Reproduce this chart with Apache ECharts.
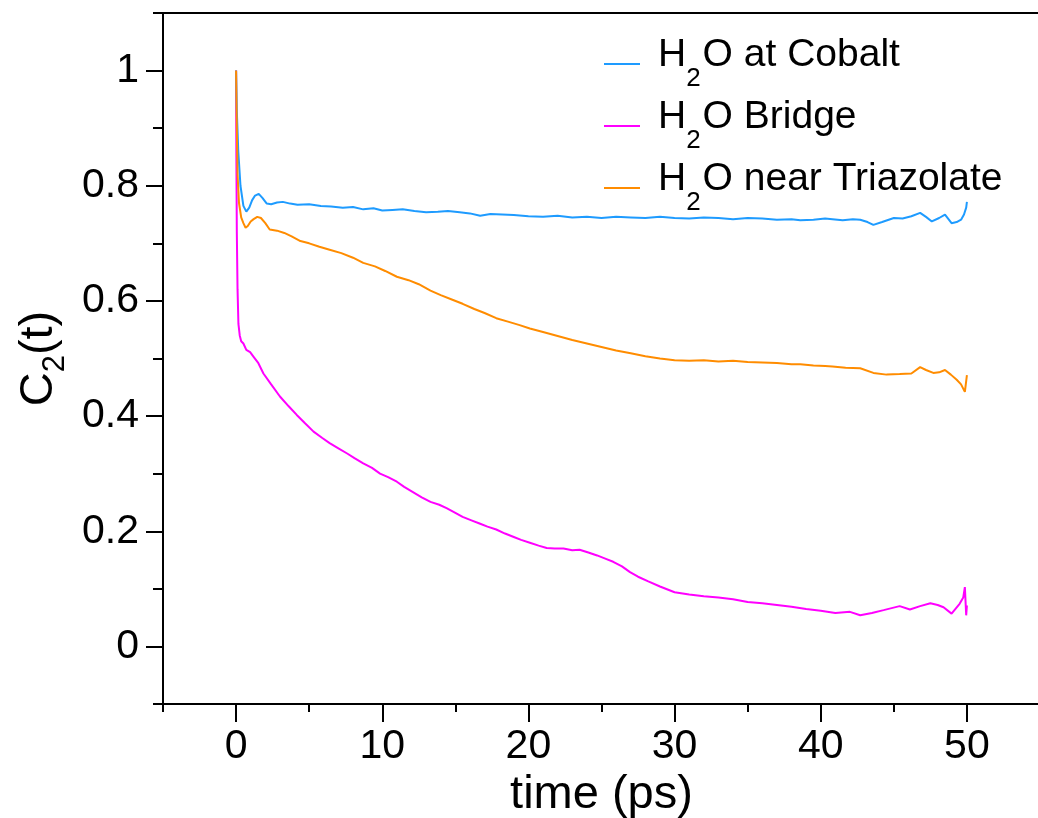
<!DOCTYPE html>
<html>
<head>
<meta charset="utf-8">
<script src="https://cdn.jsdelivr.net/npm/echarts@6/dist/echarts.min.js"></script>
<style>
html,body{margin:0;padding:0;background:#fff;}
#chart{width:1038px;height:818px;}
</style>
</head>
<body>
<div id="chart"></div>
<script>
// ---- data ----
const seriesNames = ['H2O at Cobalt', 'H2O Bridge', 'H2O near Triazolate'];
const xMajorTicks = [0, 10, 20, 30, 40, 50];
const yMajorTicks = [0, 0.2, 0.4, 0.6, 0.8, 1];

const cobaltT = [0,0.05,0.15,0.3,0.5,0.7,0.9,1.1,1.3,1.55,1.8,2.1,2.4,2.8,3.2,3.7,4.2,5,5.8,6.5,7.3,8,8.7,9.4,10,10.7,11.4,12.2,13,13.8,14.5,15.3,16,16.7,17.4,18.2,19,20,21,22,23,24,25,26,27,28,29,30,31,32,33,34,35,36,37,38,38.6,39.5,40.3,40.8,41.5,42.2,42.7,43.2,43.6,44.2,45,45.6,46.2,46.8,47.2,47.6,48.1,48.5,48.95,49.3,49.6,49.8,49.95,50];
const cobaltV = [1.0,0.93,0.86,0.80,0.765,0.755,0.762,0.775,0.783,0.786,0.779,0.769,0.768,0.771,0.772,0.769,0.767,0.768,0.765,0.764,0.762,0.763,0.759,0.761,0.757,0.758,0.759,0.756,0.754,0.755,0.756,0.754,0.752,0.748,0.751,0.750,0.749,0.747,0.746,0.748,0.745,0.746,0.744,0.746,0.745,0.744,0.746,0.744,0.743,0.745,0.744,0.742,0.744,0.743,0.741,0.742,0.740,0.741,0.743,0.742,0.740,0.742,0.741,0.737,0.732,0.737,0.744,0.743,0.747,0.753,0.746,0.738,0.744,0.750,0.735,0.737,0.741,0.750,0.762,0.772];

const bridgeT = [0,0.02,0.05,0.1,0.16,0.25,0.35,0.5,0.7,0.96,1.2,1.5,1.87,2.4,3.0,3.6,4.15,4.7,5.3,5.9,6.4,7.0,7.6,8.1,8.7,9.3,9.85,10.4,11.0,11.5,12.1,12.7,13.3,13.9,14.4,15.0,15.5,16.1,16.7,17.2,17.8,18.4,19.0,19.5,20.1,20.7,21.25,21.8,22.4,23.0,23.5,24.1,24.7,25.3,25.8,26.4,26.95,27.5,28.2,29.0,30,31,32,33,34,35,36,37,38,39,40,41,42,42.7,43.5,44.3,45.4,46.1,46.8,47.5,48.0,48.4,48.95,49.5,49.75,49.86,49.95,50];
const bridgeV = [1.0,0.85,0.72,0.62,0.56,0.54,0.53,0.526,0.515,0.511,0.503,0.493,0.474,0.455,0.434,0.417,0.402,0.388,0.373,0.362,0.353,0.344,0.335,0.327,0.318,0.310,0.300,0.294,0.286,0.277,0.268,0.259,0.251,0.246,0.240,0.232,0.225,0.219,0.213,0.208,0.203,0.196,0.190,0.185,0.180,0.175,0.171,0.170,0.170,0.167,0.168,0.163,0.158,0.152,0.147,0.139,0.129,0.121,0.113,0.104,0.094,0.090,0.087,0.085,0.082,0.077,0.075,0.072,0.069,0.065,0.062,0.058,0.060,0.054,0.058,0.063,0.070,0.064,0.070,0.075,0.072,0.068,0.057,0.074,0.085,0.103,0.054,0.071];

const triazT = [0,0.05,0.1,0.2,0.35,0.5,0.65,0.8,1.0,1.2,1.45,1.7,2.0,2.3,2.8,3.3,3.8,4.4,5.0,5.7,6.4,7.2,8.0,8.7,9.5,10.2,11.0,11.8,12.5,13.3,14.0,14.8,15.5,16.3,17.0,17.8,18.6,19.4,20.1,21,22,23,24,25,26,27,28,29,30,31,32,33,34,35,36,37,38,38.6,39.5,40.3,40.8,41.7,42.7,43.6,44.5,45.4,46.2,46.8,47.2,47.7,48.1,48.5,48.9,49.3,49.6,49.86,50];
const triazV = [1.0,0.90,0.82,0.77,0.745,0.735,0.727,0.73,0.738,0.742,0.746,0.744,0.735,0.724,0.722,0.718,0.712,0.704,0.700,0.694,0.689,0.683,0.675,0.666,0.660,0.652,0.642,0.636,0.629,0.618,0.610,0.602,0.595,0.586,0.579,0.570,0.564,0.558,0.552,0.546,0.539,0.532,0.526,0.520,0.514,0.509,0.504,0.500,0.497,0.496,0.497,0.495,0.496,0.494,0.493,0.492,0.490,0.490,0.488,0.487,0.486,0.484,0.483,0.475,0.472,0.473,0.474,0.485,0.480,0.475,0.476,0.480,0.472,0.463,0.455,0.442,0.471];

// ---- build ----
function pairs(t, v) { const n = Math.min(t.length, v.length); const out = []; for (let i = 0; i < n; i++) out.push([t[i], v[i]]); return out; }
const FONT = '"Liberation Sans", Arial, Helvetica, sans-serif';
const colors = ['#1e9bff', '#ff00ff', '#ff8c00'];
const dataSets = [pairs(cobaltT, cobaltV), pairs(bridgeT, bridgeV), pairs(triazT, triazV)];

const chart = echarts.init(document.getElementById('chart'), null, {renderer: 'canvas'});

const legendRich = {
  m: {fontSize: 39, fontFamily: FONT, color: '#000', verticalAlign: 'top'},
  p: {fontSize: 39, fontFamily: FONT, color: '#000', verticalAlign: 'top', padding: [0, 0, 0, 13]},
  s: {fontSize: 26, fontFamily: FONT, color: '#000', verticalAlign: 'top', padding: [30, 2, 0, 0]}
};

const option = {
  animation: false,
  backgroundColor: '#fff',
  grid: {left: 163, top: 13, width: 877, height: 691, show: true, borderColor: '#000', borderWidth: 2,
         backgroundColor: 'transparent', containLabel: false, outerBoundsMode: 'none'},
  legend: {
    orient: 'vertical', left: 599, top: 31, itemWidth: 36, itemHeight: 2, itemGap: 6, icon: 'rect',
    data: seriesNames,
    formatter: function (name) { return '{p|H}{s|2}{m|' + name.slice(2) + '}'; },
    textStyle: {rich: legendRich, fontFamily: FONT, fontSize: 39}
  },
  xAxis: [
    {type: 'value', min: -5, max: 55, interval: 5, position: 'bottom',
     axisLine: {show: true, onZero: false, lineStyle: {color: '#000', width: 2}},
     axisTick: {show: true, length: 8, lineStyle: {color: '#000', width: 2}},
     axisLabel: {show: false}, splitLine: {show: false}},
    {type: 'value', min: -5, max: 55, position: 'bottom',
     axisLine: {show: false, onZero: false},
     axisTick: {show: true, length: 18, customValues: xMajorTicks, lineStyle: {color: '#000', width: 2}},
     axisLabel: {show: true, customValues: xMajorTicks, fontSize: 41, fontFamily: FONT, color: '#000', margin: 22},
     splitLine: {show: false},
     name: 'time (ps)', nameLocation: 'middle', nameGap: 56,
     nameTextStyle: {fontSize: 47, fontFamily: FONT, color: '#000'}}
  ],
  yAxis: [
    {type: 'value', min: -0.1, max: 1.1, interval: 0.1, position: 'left',
     axisLine: {show: true, onZero: false, lineStyle: {color: '#000', width: 2}},
     axisTick: {show: true, length: 10, lineStyle: {color: '#000', width: 2}},
     axisLabel: {show: false}, splitLine: {show: false}},
    {type: 'value', min: -0.1, max: 1.1, position: 'left',
     axisLine: {show: false, onZero: false},
     axisTick: {show: true, length: 17, customValues: yMajorTicks, lineStyle: {color: '#000', width: 2}},
     axisLabel: {show: true, customValues: yMajorTicks, fontSize: 41, fontFamily: FONT, color: '#000', margin: 24,
       formatter: function (v) { return String(Math.round(v * 10) / 10); }},
     splitLine: {show: false},
     name: '{c|C}{s|2}{c|(t)}', nameLocation: 'middle', nameRotate: 90, nameGap: 92,
     nameTextStyle: {fontSize: 47, fontFamily: FONT, color: '#000',
       rich: {c: {fontSize: 47, fontFamily: FONT, color: '#000'}, s: {fontSize: 31, fontFamily: FONT, color: '#000', padding: [32, 0, 0, 0]}}}}
  ],
  series: seriesNames.map(function (n, i) {
    return {name: n, type: 'line', xAxisIndex: 0, yAxisIndex: 0, data: dataSets[i], showSymbol: false, symbol: 'none',
      lineStyle: {color: colors[i], width: 2}, itemStyle: {color: colors[i]}, z: i === 1 ? 2 : 3};
  })
};
chart.setOption(option);
</script>
</body>
</html>
